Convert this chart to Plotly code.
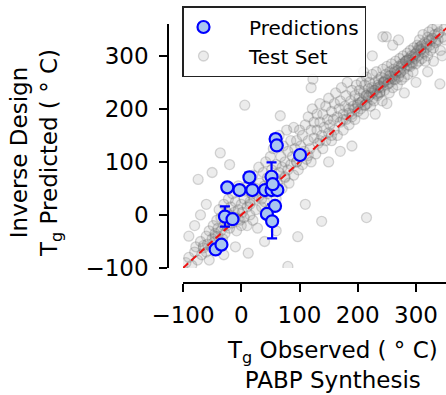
import plotly.graph_objects as go

# ---- Inverse-design predictions (blue, with error bars) ----
pred_x = [59, 61, 101, 14, -24, -3, 19, 41, 52, 52, 62, 58, 44, 53, 54, -28, -15, -44, -34]
pred_y = [143, 131, 113, 71, 52, 47, 47, 47, 72, 47, 47, 17, 2, -12, 58, -3, -8, -65, -56]
pred_err = [8, 0, 0, 9, 0, 0, 0, 0, 27, 0, 0, 0, 0, 32, 0, 19, 0, 0, 0]

# ---- Test set (grey, translucent) ----
test_x = [
    -95, -90, -85, -80, -78, -75, -70, -68, -65, -60, -60, -58, -55, -52, -50, -48, -45, -45, -42, -40,
    -40, -38, -35, -35, -32, -30, -30, -28, -25, -25, -22, -20, -20, -18, -15, -15, -12, -10, -10, -8,
    -5, -5, -2, 0, 0, -74, -36, -60, -80, -50, -20, 6, -90, -70, 12, -30, -55, -10,
    2, 5, 5, 8, 10, 10, 12, 15, 15, 18, 20, 20, 22, 25, 25, 28, 30, 30, 32, 35,
    35, 38, 40, 40, 42, 45, 45, 48, 50, 50, 52, 55, 55, 58, 60, 60, 62, 65, 65, 68,
    70, 70, 72, 75, 75, 78, 80, 80, 82, 85, 85, 88, 90, 90, 92, 95, 95, 98, 100, 100,
    67, 97, 80, 138, 110, 60, 40,
    102, 105, 105, 108, 110, 112, 115, 115, 118, 120, 120, 122, 125, 125, 128, 130, 130, 132, 135, 135,
    138, 140, 140, 142, 145, 145, 148, 150, 150, 152, 155, 155, 158, 160, 160, 162, 165, 165, 168, 170,
    170, 172, 175, 175, 178, 180, 180, 182, 185, 185, 188, 190, 190, 192, 195, 195, 198, 200, 200, 123,
    150, 170, 190, 215, 120,
    202, 203, 205, 206, 208, 210, 210, 212, 214, 215, 216, 218, 220, 220, 222, 224, 225, 226, 228, 230,
    230, 232, 234, 235, 236, 238, 240, 240, 242, 243, 245, 246, 248, 250, 250, 252, 254, 255, 256, 258,
    260, 260, 262, 264, 265, 266, 268, 270, 270, 272, 274, 275, 276, 278, 280, 280, 282, 284, 285, 286,
    288, 290, 290, 292, 294, 295, 296, 298, 300, 300, 243, 249, 225, 260, 280, 300, 250, 270, 230, 210,
    302, 304, 305, 306, 308, 310, 310, 312, 314, 315, 316, 318, 320, 320, 322, 324, 325, 326, 328, 330,
    332, 334, 336, 338, 340, 342, 345, 348, 350, 341, 330, 320, 345,
    215, 235, 255, 275, 295, 225, 245, 265, 285, 305, 212, 238, 262, 288, 308,
    185, 195, 205, 218, 228, 238, 248, 258, 268, 278, 288, 298, 308, 318, 328, 338,
    190, 200, 213, 223, 233, 244, 253, 263, 273, 283, 293, 303, 313, 323, 333,
    -65, -45, -25, -5, 15, 35, 55, 75, 95, 115, 135, 155, 175,
]
test_y = [
    -90, -80, -95, -70, -60, -85, -50, -75, -62, -40, -70, -55, -30, -60, -45, -20, -50, -35, -10, -40,
    -25, 10, -30, -5, -45, -20, 20, -35, -10, 5, 30, -25, 0, 15, -15, 40, 5, -5, 25, -30,
    10, 55, -10, 20, -20, 67, 117, 20, -20, 80, 95, 207, -40, 0, -72, -75, -85, -60,
    5, 30, -5, 45, 15, -20, 60, 25, 0, 40, -10, 75, 30, 50, 10, -25, 35, 90, 60, 15,
    45, 80, 25, 55, 100, 40, 70, 10, 60, 110, 85, 45, 125, 70, 95, 30, 60, 80, 150, 110,
    50, 90, 130, 70, 100, 160, 85, 120, 60, 95, 140, 110, 75, 165, 125, 100, 140, 85, 115, 160,
    187, -41, -97, -12, 20, -30, -50,
    130, 95, 150, 120, 170, 105, 140, 185, 125, 160, 100, 200, 145, 175, 115, 160, 190, 135, 175, 210,
    150, 125, 190, 165, 140, 205, 180, 155, 220, 170, 195, 140, 180, 210, 160, 230, 185, 150, 200, 175,
    215, 240, 190, 160, 205, 225, 180, 250, 200, 170, 215, 235, 190, 205, 225, 180, 245, 210, 195, 256,
    100, 120, 130, -5, 240,
    220, 235, 200, 250, 215, 230, 190, 245, 225, 260, 210, 238, 225, 250, 205, 240, 265, 230, 215, 250,
    235, 270, 225, 245, 255, 230, 260, 240, 215, 275, 250, 235, 265, 245, 280, 255, 230, 270, 250, 285,
    260, 240, 275, 255, 290, 265, 245, 280, 260, 295, 270, 255, 285, 300, 275, 260, 290, 280, 305, 265,
    295, 280, 310, 300, 285, 270, 315, 295, 305, 285, 336, 336, 300, 320, 230, 250, 210, 330, 190, 270,
    320, 300, 290, 330, 310, 295, 320, 340, 305, 325, 290, 315, 335, 300, 345, 320, 310, 330, 350, 315,
    340, 325, 355, 330, 345, 310, 335, 350, 330, 247, 290, 270, 300,
    225, 240, 262, 280, 298, 218, 252, 268, 292, 315, 206, 232, 256, 282, 318,
    192, 200, 212, 222, 235, 242, 255, 262, 272, 285, 292, 303, 312, 322, 333, 342,
    185, 207, 208, 230, 228, 250, 248, 270, 268, 290, 288, 310, 308, 330, 328,
    -58, -40, -20, -8, 20, 30, 60, 72, 100, 112, 140, 150, 180,
]

# ---- tick labels ----
x_ticks = [-100, 0, 100, 200, 300]
x_ticktext = ["\u2212100", "0", "100", "200", "300"]
y_ticks = [-100, 0, 100, 200, 300]
y_ticktext = ["\u2212100", "0", "100", "200", "300"]

diag = [-100, 420]

W, H = 446, 395
FONT = "DejaVu Sans"
NB = "\u00a0"

fig = go.Figure()

fig.add_trace(go.Scatter(
    x=test_x, y=test_y, mode="markers", name=NB * 4 + "Test Set",
    marker=dict(size=10, color="rgba(128,128,128,0.15)",
                line=dict(color="rgba(90,90,90,0.24)", width=1.3)),
))

fig.add_trace(go.Scatter(
    x=diag, y=diag, mode="lines", showlegend=False,
    line=dict(color="#ee1111", width=2, dash="7px,4px"),
))

fig.add_trace(go.Scatter(
    x=pred_x, y=pred_y, mode="markers", name=NB * 4 + "Predictions",
    marker=dict(size=12, color="#a9c6f0", line=dict(color="#0000ff", width=2.2)),
    error_y=dict(type="data", array=pred_err, visible=True, color="#0000ff",
                 thickness=2.2, width=5),
))

axis_common = dict(
    showline=True, linecolor="black", linewidth=1.5,
    ticks="outside", ticklen=8, tickwidth=1.5, tickcolor="black",
    showgrid=False, zeroline=False, anchor="free", automargin=False,
    tickfont=dict(family=FONT, size=23, color="black"),
)

fig.update_layout(
    width=W, height=H,
    margin=dict(l=0, r=0, t=0, b=0, autoexpand=False),
    paper_bgcolor="white", plot_bgcolor="white",
    font=dict(family=FONT, color="black"),
    xaxis=dict(domain=[183 / W, 1], range=[-100, 351.5], position=1 - 283 / H,
               tickvals=x_ticks, ticktext=x_ticktext, ticklabelstandoff=4, **axis_common),
    yaxis=dict(domain=[1 - 268 / H, 1 - 24 / H], range=[-100, 360], position=168 / W,
               tickvals=y_ticks, ticktext=y_ticktext, ticklabelstandoff=6, **axis_common),
    legend=dict(
        x=182 / W, y=1 - 6 / H, xanchor="left", yanchor="top",
        bordercolor="#222222", borderwidth=1.5, bgcolor="rgba(255,255,255,0.85)",
        font=dict(family=FONT, size=20, color="black"),
        traceorder="reversed", itemwidth=30,
    ),
    showlegend=True,
    annotations=[
        dict(text="Inverse Design<br>T<sub>g</sub> Predicted ( \u00b0 C)", textangle=-90,
             xref="paper", yref="paper", x=36 / W, y=1 - 153 / H,
             xanchor="center", yanchor="middle", showarrow=False,
             font=dict(family=FONT, size=23, color="black")),
        dict(text="T<sub>g</sub> Observed ( \u00b0 C)<br>PABP Synthesis",
             xref="paper", yref="paper", x=332 / W, y=1 - 365 / H,
             xanchor="center", yanchor="middle", showarrow=False,
             font=dict(family=FONT, size=23, color="black")),
    ],
)

fig.write_html(
    "out.html",
    config={"displayModeBar": False},
    post_script="document.body.style.margin='0';document.body.style.overflow='hidden';",
)
